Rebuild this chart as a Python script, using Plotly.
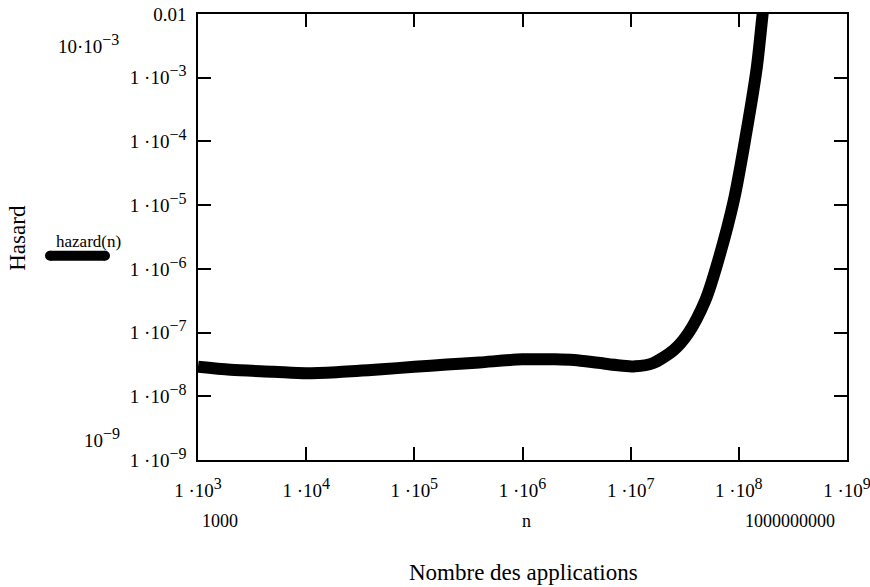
import plotly.graph_objects as go

# ---- data ----
n_values = [1e3, 2e3, 5e3, 1e4, 2e4, 5e4, 1e5, 2e5, 4e5, 1e6, 2e6, 3e6, 5e6, 8e6,
            1.1e7, 1.6e7, 2.5e7, 3.4e7, 4.9e7, 6.2e7, 9e7, 1.17e8, 1.47e8, 1.66e8, 1.75e8]
hazard_values = [2.9e-8, 2.6e-8, 2.43e-8, 2.3e-8, 2.4e-8, 2.65e-8, 2.9e-8, 3.15e-8, 3.4e-8,
                 3.8e-8, 3.8e-8, 3.7e-8, 3.35e-8, 3.05e-8,
                 2.95e-8, 3.3e-8, 5.3e-8, 9.7e-8, 3.2e-7, 1.08e-6, 1.2e-5, 1.34e-4, 1.5e-3,
                 1e-2, 2e-2]

x_exponents = ["3", "4", "5", "6", "7", "8", "9"]
x_tickvals = [1e3, 1e4, 1e5, 1e6, 1e7, 1e8, 1e9]
y_exponents = ["\u22123", "\u22124", "\u22125", "\u22126", "\u22127", "\u22128", "\u22129"]
y_tickvals = [1e-2, 1e-3, 1e-4, 1e-5, 1e-6, 1e-7, 1e-8, 1e-9]
y_top_label = "0.01"

x_title = "Nombre des applications"
y_title = "Hasard"
legend_label = "hazard(n)"
x_min_label, x_max_label, x_var_label = "1000", "1000000000", "n"

SUP = "<sup><span style='font-size:16px'>{}</span></sup>"


def power_label(exp, mant="1 \u00b7"):
    return mant + "10" + SUP.format(exp)


x_ticktext = [power_label(e) for e in x_exponents]
y_ticktext = [y_top_label] + [power_label(e) for e in y_exponents]
y_max_label = power_label("\u22123", "10\u00b7")
y_min_label = power_label("\u22129", "")

# ---- layout geometry ----
W, H = 870, 587
L, R, T, B = 198, 847, 14, 460.5
FONT = "Liberation Serif"


def px(x):
    return (x - L) / (R - L)


def py(y):
    return (B - y) / (B - T)


fig = go.Figure()
fig.add_trace(go.Scatter(
    x=n_values, y=hazard_values, mode="lines",
    line=dict(color="black", width=12, shape="spline", smoothing=0.8),
    showlegend=False, hoverinfo="skip",
))

axis_common = dict(
    type="log", showgrid=False, zeroline=False, automargin=False,
    showline=True, linecolor="black", linewidth=1.5,
    ticks="inside", ticklen=13, tickwidth=1.5, tickcolor="black",
    mirror="ticks", tickmode="array", ticklabeloverflow="allow",
    tickfont=dict(family=FONT, size=19, color="black"),
)

fig.update_xaxes(range=[3, 9], tickvals=x_tickvals, ticktext=x_ticktext,
                 ticklabelstandoff=12, **axis_common)
fig.update_yaxes(range=[-9, -2], tickvals=y_tickvals, ticktext=y_ticktext,
                 ticklabelstandoff=6, **axis_common)

ann = []


def add_text(text, x, y, size=18, xanchor="center", yanchor="middle", angle=0):
    ann.append(dict(text=text, x=px(x), y=py(y), xref="paper", yref="paper",
                    xanchor=xanchor, yanchor=yanchor, showarrow=False, textangle=angle,
                    font=dict(family=FONT, size=size, color="black")))


add_text(x_title, 523, 573, size=23)
add_text(y_title, 18, 238, size=23, angle=-90)
add_text(x_min_label, 220, 522)
add_text(x_var_label, 526, 522)
add_text(x_max_label, 790, 522)
add_text(y_max_label, 89, 44, size=19)
add_text(y_min_label, 102, 438, size=19)
add_text(legend_label, 89, 242, size=17)

fig.update_layout(
    width=W, height=H,
    margin=dict(l=L, r=W - R, t=T, b=H - B),
    plot_bgcolor="white", paper_bgcolor="white",
    annotations=ann,
    shapes=[dict(type="line", xref="paper", yref="paper",
                 x0=px(50), x1=px(105), y0=py(256), y1=py(256),
                 line=dict(color="black", width=10)),
            dict(type="circle", xref="paper", yref="paper",
                 x0=px(45), x1=px(55), y0=py(261), y1=py(251),
                 fillcolor="black", line=dict(width=0)),
            dict(type="circle", xref="paper", yref="paper",
                 x0=px(100), x1=px(110), y0=py(261), y1=py(251),
                 fillcolor="black", line=dict(width=0))],
    showlegend=False,
)

fig.write_html("out.html")
